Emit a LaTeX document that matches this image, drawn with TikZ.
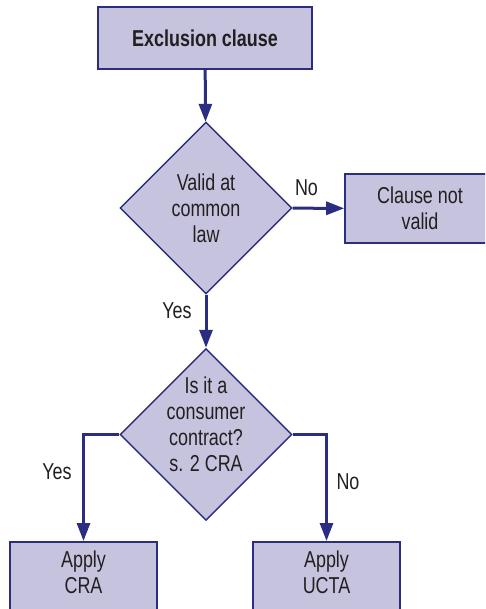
\documentclass[tikz,border=0pt]{standalone}
\usepackage{fontspec}
\setmainfont{Liberation Sans}[FakeStretch=0.78]
\usetikzlibrary{shapes.geometric,arrows.meta}
\definecolor{boxfill}{HTML}{C6C3DE}
\definecolor{navy}{HTML}{2B2E80}
\definecolor{ink}{HTML}{231F20}
\begin{document}
\begin{tikzpicture}[x=1pt,y=-1pt,
  txt/.style={text=ink, font=\fontsize{23}{26}\selectfont, align=center, inner sep=0},
  box/.style={draw=navy, line width=1.6pt, fill=boxfill, rectangle, inner sep=0},
  decision/.style={draw=navy, line width=1.4pt, fill=boxfill, diamond, inner sep=0,
    minimum width=172pt, minimum height=172pt, txt},
  conn/.style={draw=navy, line width=3pt, -{Triangle[length=18pt,width=13pt]}},
  lbl/.style={txt, anchor=base}
]
\useasboundingbox (0,0) rectangle (485,609);
\clip (0,0) rectangle (485,609);

% boxes and decisions
\node[box, txt, minimum width=214pt, minimum height=62pt,
      font=\fontsize{23}{26}\selectfont\bfseries] (start) at (205,38) {Exclusion clause};
\node[decision] (valid) at (206,208) {Valid at\\common\\law};
\node[box, txt, minimum width=150pt, minimum height=69pt] (invalid) at (420,208.5) {Clause not\\valid};
\node[decision] (consumer) at (206,434.5) {};
\node[txt, anchor=north] (consumertxt) at (206,377) {Is it a\\consumer\\contract?\\s. 2 CRA};
\node[box, minimum width=147pt, minimum height=90pt, anchor=north] (cra) at (83.5,541) {};
\node[txt, anchor=north] (cratxt) at (83.5,551) {Apply\\CRA};
\node[box, minimum width=147pt, minimum height=90pt, anchor=north] (ucta) at (326.5,541) {};
\node[txt, anchor=north] (uctatxt) at (326.5,551) {Apply\\UCTA};

% connectors
\draw[conn] (start) -- (valid);
\draw[conn] (valid) -- (invalid);
\draw[conn] (valid) -- (consumer);
\draw[conn] (consumer.west) -| (cra.north);
\draw[conn] (consumer.east) -| (ucta.north);

% branch labels
\node[lbl] (no1) at (306.5,196) {No};
\node[lbl] (yes1) at (177,318) {Yes};
\node[lbl] (yes2) at (57,479) {Yes};
\node[lbl] (no2) at (348,489) {No};
\end{tikzpicture}
\end{document}
